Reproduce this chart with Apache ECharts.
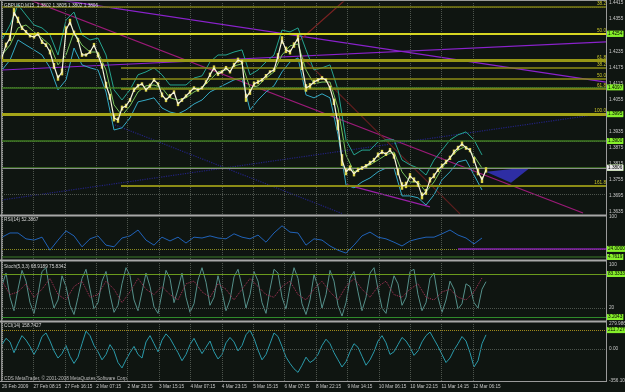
<!DOCTYPE html>
<html><head><meta charset="utf-8">
<script src="https://cdn.jsdelivr.net/npm/echarts@6/dist/echarts.min.js"></script>
<style>html,body{margin:0;padding:0;background:#0f1511;}#c{width:625px;height:392px;}</style>
</head><body><div id="c"></div>
<script>
// ---------- data ----------
const timeLabels = ['26 Feb 2009','27 Feb 08:15','27 Feb 16:15','2 Mar 07:15','2 Mar 23:15','3 Mar 15:15','4 Mar 07:15','4 Mar 23:15','5 Mar 15:15','6 Mar 07:15','8 Mar 22:15','9 Mar 14:15','10 Mar 06:15','10 Mar 22:15','11 Mar 14:15','12 Mar 06:15'];
const priceTicks = [1.4415,1.4355,1.4295,1.4235,1.4175,1.4115,1.4055,1.3995,1.3935,1.3875,1.3815,1.3755,1.3695,1.3635];
// close, one sample per 8 bars
const price = [1.4213,1.4258,1.4284,1.4381,1.4352,1.4322,1.4307,1.4292,1.4288,1.4299,
1.4270,1.4258,1.4232,1.4180,1.4135,1.4158,1.4314,1.4344,1.4303,1.4277,
1.4221,1.4221,1.4232,1.4258,1.4221,1.4180,1.4109,1.4065,1.3986,1.3978,
1.4023,1.4031,1.4053,1.4091,1.4106,1.4113,1.4091,1.4106,1.4128,1.4113,
1.4072,1.4053,1.4068,1.4083,1.4038,1.4053,1.4068,1.4083,1.4098,1.4091,
1.4098,1.4120,1.4147,1.4173,1.4150,1.4158,1.4173,1.4158,1.4184,1.4202,
1.4195,1.4061,1.4083,1.4113,1.4120,1.4128,1.4143,1.4158,1.4165,1.4217,
1.4277,1.4240,1.4232,1.4258,1.4284,1.4180,1.4098,1.4106,1.4120,1.4128,
1.4135,1.4128,1.4098,1.4046,1.3960,1.3829,1.3785,1.3799,1.3777,1.3792,
1.3799,1.3807,1.3818,1.3829,1.3848,1.3859,1.3851,1.3866,1.3844,1.3785,
1.3732,1.3736,1.3770,1.3755,1.3740,1.3695,1.3710,1.3755,1.3770,1.3792,
1.3807,1.3822,1.3837,1.3859,1.3874,1.3889,1.3874,1.3866,1.3829,1.3785,
1.3755,1.3792];
// high-low range of each sample, in pips
const barRange = [14,18,22,30,24,16,14,12,12,14,16,14,18,22,20,26,28,24,18,16,
14,12,14,16,18,20,24,22,26,20,18,16,14,16,14,12,14,16,14,12,
18,16,14,12,16,14,12,14,12,14,12,14,16,18,14,12,14,12,16,18,
16,30,22,18,16,14,14,12,14,22,28,24,18,20,26,30,28,20,16,14,
14,12,16,24,40,44,26,20,18,16,14,14,16,16,18,16,14,16,20,26,
28,24,20,18,22,26,22,20,18,16,16,16,16,18,16,18,14,16,22,26,24,20];
// envelope / average, one sample per 16 bars
const upperBand = [1.4277,1.4333,1.4408,1.4370,1.4333,1.4322,1.4296,1.4221,1.4352,1.4381,
1.4296,1.4277,1.4284,1.4221,1.4091,1.4053,1.4091,1.4147,1.4158,1.4173,
1.4147,1.4109,1.4109,1.4109,1.4135,1.4143,1.4195,1.4221,1.4221,1.4232,
1.4240,1.4147,1.4165,1.4195,1.4221,1.4314,1.4307,1.4322,1.4240,1.4165,
1.4173,1.4184,1.4091,1.3904,1.3848,1.3866,1.3866,1.3897,1.3904,1.3904,
1.3829,1.3811,1.3799,1.3773,1.3829,1.3866,1.3904,1.3923,1.3934,1.3904,1.3848];
const lowerBand = [1.4165,1.4202,1.4277,1.4258,1.4240,1.4221,1.4173,1.4091,1.4128,1.4247,
1.4184,1.4173,1.4165,1.4083,1.3941,1.3949,1.3986,1.4046,1.4053,1.4061,
1.4023,1.4008,1.4001,1.4016,1.4038,1.4053,1.4083,1.4098,1.4113,1.4128,
1.4135,1.4016,1.4053,1.4083,1.4106,1.4158,1.4195,1.4210,1.4072,1.4061,
1.4076,1.4061,1.3923,1.3736,1.3725,1.3747,1.3762,1.3785,1.3799,1.3799,
1.3695,1.3695,1.3688,1.3661,1.3699,1.3755,1.3785,1.3822,1.3829,1.3773,1.3717];
const movingAvg = [1.4221,1.4258,1.4322,1.4333,1.4307,1.4284,1.4258,1.4184,1.4221,1.4307,
1.4258,1.4232,1.4232,1.4165,1.4035,1.3995,1.4031,1.4083,1.4106,1.4109,
1.4098,1.4061,1.4053,1.4061,1.4083,1.4098,1.4128,1.4158,1.4165,1.4180,
1.4188,1.4098,1.4106,1.4135,1.4158,1.4221,1.4255,1.4262,1.4165,1.4113,
1.4120,1.4120,1.4023,1.3848,1.3785,1.3799,1.3811,1.3829,1.3848,1.3859,
1.3785,1.3747,1.3747,1.3710,1.3747,1.3799,1.3837,1.3866,1.3881,1.3844,1.3799];
const rsi = [52,62,62,48,45,52,21,45,67,55,29,48,55,33,29,50,55,69,45,33,
52,43,52,38,52,50,55,50,48,60,52,48,57,40,62,79,64,62,33,48,
45,31,21,14,33,55,64,52,48,40,31,43,48,52,52,60,69,57,50,36,50];
const stochK = [62,85,40,15,55,90,70,30,10,45,88,95,50,20,35,80,60,25,8,40,
75,92,55,18,30,70,88,45,12,25,65,95,80,35,15,50,85,60,22,10,
48,90,75,30,55,85,40,12,28,72,95,68,25,40,80,50,15,35,78,92,
60,20,45,88,70,30,10,55,92,85,40,18,60,95,75,28,8,35,82,60,
20,45,90,70,25,5,30,75,88,50,15,40,85,95,55,20,10,50,80,65,
25,40,88,92,45,15,30,75,85,40,12,35,70,55,18,28,65,60,30,20,55,69];
const stochD = [70,45,50,65,40,55,75,45,35,60,70,40,45,70,55,30,50,75,55,45,
60,45,35,65,70,50,40,65,55,35,55,75,60,45,40,60,70,45,35,55,
70,50,35,60,75,55,40,60,70,45,40,55,65,40,35,50,55,40,35,50,76];
const cci = [50,120,80,-40,60,150,100,30,-60,20,140,180,90,-20,-100,-50,40,-80,-160,-90,
60,200,150,40,-30,-120,-60,50,-20,-150,-210,-120,-40,30,-60,-100,80,150,60,-30,
100,170,120,40,-40,-130,-60,50,120,30,-50,20,90,-30,-110,-60,70,130,80,-20,
40,160,210,120,-10,-120,-60,60,180,140,30,-90,-160,-220,-260,-180,-90,-150,-120,-60,
40,110,60,-40,-120,-200,-140,-30,60,20,-80,-180,-120,-30,90,150,70,-60,-30,50,
130,90,20,-70,-20,80,150,190,110,30,-60,-150,-100,-10,60,140,90,-40,-200,-130,60,159];
const fibALevels = ['38.2','50.0','61.8','100.0'];
const fibAPrices = [1.4389,1.4307,1.4225,1.3952];
const fibBLevels = ['38.2','50.0','61.8','161.8'];
const fibBPrices = [1.4173,1.4132,1.4094,1.3732];
const fibBStart = 29.75;
const hLinePrices = [1.4300,1.4254,1.4097,1.3995,1.3900,1.3796];
const bidPrice = 1.3806;
const trendLines = [
  [[14.5,1.4426],[151,1.4120]],
  [[7,1.4426],[145.25,1.3631]],
  [[0,1.4165],[151,1.4270]],
  [[0,1.3680],[151,1.4004]],
  [[28.25,1.3960],[85.25,1.3628]],
  [[86.25,1.3736],[107,1.3654]],
  [[74.5,1.4277],[85.75,1.4426]],
  [[74.5,1.4221],[114.5,1.3628]]
];
const triangle = [[121,1.3785],[132.25,1.3803],[127.25,1.3744]];
const rsiLevels = [24.0, 4.76];
const rsiLevelLabels = ['24.0000','4.7619'];
const stochLevels = [83.3, 3.2];
const stochLevelLabels = ['83.3333','3.2043'];
const cciLevel = 211.73;
const cciLevelLabel = '211.7279';
const cciTicks = [279.986, 0, -356.1];
const cciTickLabels = ['279.986','0.00','-356.100'];

// ---------- layout / style ----------
const X_MAX = 151;
const tickStep = 7.85;
const timeTicks = timeLabels.map((_, k) => k * tickStep);
const FS = 4.7;
const LBL = '#c8c8c8';
const GRIDC = '#4d544d';
const trendColors = ['#8a22cc','#9c1a78','#8a22cc','#22227e','#22227e','#9a20a8','#7a2222','#5e1e1e'];
const trendTypes = ['solid','solid','solid','dotted','dotted','solid','solid','solid'];

const withStep = (arr, step) => arr.map((v, i) => [i * step, v]);
const nearest = (vals, v) => { let b = 0; vals.forEach((x, i) => { if (Math.abs(x - v) < Math.abs(vals[b] - v)) b = i; }); return b; };
const boxLabel = (text, bg) => ({show:true, position:'end', formatter:text, backgroundColor:bg, color:'#000', fontSize:FS, padding:[1,1,0,1], distance:1, fontFamily:'Liberation Sans'});
const vGrid = timeTicks.map(t => ({xAxis:t}));
function carrier(pane, z, data, lineStyle) {
  return {type:'line', xAxisIndex:pane, yAxisIndex:pane, data:[], z, silent:true,
    markLine:{silent:true, symbol:['none','none'], animation:false, label:{show:false},
      lineStyle: lineStyle || {color:GRIDC, type:'dotted', width:1}, data}};
}

const series = [];
series.push(carrier(0, 1, priceTicks.map(p => ({yAxis:p})).concat(vGrid)));
const fibLbl = t => ({show:true, position:'insideEndTop', formatter:t, color:'#c8c428', fontSize:FS, distance:[0,0.5], fontFamily:'Liberation Sans'});
const fibAStyles = [{color:'#7c7c12',width:1.5},{color:'#d6d622',width:2},{color:'#979716',width:3},{color:'#a4a418',width:3}];
const levelItems = [];
hLinePrices.forEach(p => levelItems.push({yAxis:p, lineStyle:{color:'#3f7a22', width:1.5, type:'solid'}, label:boxLabel(p.toFixed(4), '#86f02a')}));
levelItems.push({yAxis:bidPrice, lineStyle:{color:'#8a8a8a', width:1, type:'solid'}, label:boxLabel(bidPrice.toFixed(4), '#e6e6e6')});
fibAPrices.forEach((p, i) => levelItems.push({yAxis:p, lineStyle:Object.assign({type:'solid'}, fibAStyles[i]), label:fibLbl(fibALevels[i])}));
fibBPrices.forEach((p, i) => levelItems.push([
  {coord:[fibBStart, p], lineStyle:{color:'#8c8c16', width:i===3?2:1.5, type:'solid'}, label:fibLbl(fibBLevels[i])},
  {coord:[X_MAX, p]}]));
series.push(carrier(0, 2, levelItems));
trendLines.forEach((seg, i) => series.push({type:'line', xAxisIndex:0, yAxisIndex:0, data:seg, z:3, silent:true,
  showSymbol:false, symbol:'none', lineStyle:{color:trendColors[i], width:1.2, type:trendTypes[i]}}));
series.push({type:'custom', xAxisIndex:0, yAxisIndex:0, z:3, silent:true, data:[0],
  renderItem:(params, api) => ({type:'polygon', shape:{points:triangle.map(p => api.coord(p))}, style:{fill:'#2e2ea4'}})});
[[upperBand,'#25a38f'],[lowerBand,'#34a9c4'],[movingAvg,'#78c25c']].forEach(([arr, c]) =>
  series.push({type:'line', xAxisIndex:0, yAxisIndex:0, data:withStep(arr, 2), z:4, silent:true, symbol:'none',
    lineStyle:{color:c, width:1}}));
// price bars (high-low) and close line
const barTable = price.map((c, i) => [i, c - barRange[i] * 0.00005, c + barRange[i] * 0.00005]);
series.push({type:'custom', xAxisIndex:0, yAxisIndex:0, z:5, silent:true, data:barTable,
  encode:{x:0, y:[1,2]},
  renderItem:(params, api) => {
    const lo = api.coord([api.value(0), api.value(1)]);
    const hi = api.coord([api.value(0), api.value(2)]);
    return {type:'rect', shape:{x:lo[0] - 1.2, y:hi[1], width:2.4, height:lo[1] - hi[1]}, style:{fill:'#d9d24a'}};
  }});
series.push({type:'line', xAxisIndex:0, yAxisIndex:0, data:withStep(price, 1), z:6, silent:true, symbol:'none',
  lineStyle:{color:'#f6f4dc', width:1.2}});

// RSI pane
series.push(carrier(1, 1, vGrid));
series.push(carrier(1, 2, [
  {yAxis:rsiLevels[0], lineStyle:{color:'#8a8a20', width:1, type:'dotted'}, label:boxLabel(rsiLevelLabels[0], '#86f02a')},
  [{coord:[114, rsiLevels[0]], lineStyle:{color:'#8420b0', width:1.5, type:'solid'}}, {coord:[X_MAX, rsiLevels[0]]}],
  {yAxis:rsiLevels[1], lineStyle:{color:'#2e5a22', width:1.5, type:'solid'}, label:boxLabel(rsiLevelLabels[1], '#86f02a')}
]));
series.push({type:'line', xAxisIndex:1, yAxisIndex:1, data:withStep(rsi, 2), z:4, silent:true, symbol:'none',
  lineStyle:{color:'#2062b8', width:1}});

// Stoch pane
series.push(carrier(2, 1, vGrid.concat([{yAxis:20}])));
series.push(carrier(2, 2, stochLevels.map((v, i) => ({yAxis:v, lineStyle:{color:i===0?'#6a9a1c':'#2f8a2a', width:1.2, type:'solid'}, label:boxLabel(stochLevelLabels[i], '#86f02a')}))));
series.push({type:'line', xAxisIndex:2, yAxisIndex:2, data:withStep(stochK, 1), z:4, silent:true, symbol:'none',
  lineStyle:{color:'#55908a', width:1}});
series.push({type:'line', xAxisIndex:2, yAxisIndex:2, data:withStep(stochD, 2), z:4, silent:true, symbol:'none',
  lineStyle:{color:'#a83458', width:1, type:'dotted'}});

// CCI pane
series.push(carrier(3, 1, vGrid.concat([{yAxis:0}])));
series.push(carrier(3, 2, [{yAxis:cciLevel, lineStyle:{color:'#a08a1a', width:1, type:'dotted'}, label:boxLabel(cciLevelLabel, '#86f02a')}]));
series.push({type:'line', xAxisIndex:3, yAxisIndex:3, data:withStep(cci, 1), z:4, silent:true, symbol:'none',
  lineStyle:{color:'#2a9aaa', width:1}});

const yAx = (i, min, max, vals, fmt) => ({type:'value', gridIndex:i, position:'right', min, max, scale:true,
  axisLine:{show:true, lineStyle:{color:'#9a9a9a', width:1}}, axisTick:{show:false}, splitLine:{show:false},
  axisLabel:{show:true, customValues:vals, formatter:fmt, fontSize:FS, color:LBL, margin:3, fontFamily:'Liberation Sans'}});

const titleStyle = {fontSize:FS, color:'#d6d6d6', fontWeight:'normal', fontFamily:'Liberation Sans'};
const option = {
  backgroundColor:'#0f1511',
  animation:false,
  title:[
    {text:'GBPUSD,M15  1.3802 1.3805 1.3802 1.3806', left:4, top:3.5, padding:0, textStyle:titleStyle},
    {text:'RSI(14) 52.3867', left:4, top:217, padding:0, textStyle:titleStyle},
    {text:'Stoch(5,3,3) 68.9189 75.8342', left:4, top:264, padding:0, textStyle:titleStyle},
    {text:'CCI(14) 158.7427', left:4, top:323.5, padding:0, textStyle:titleStyle},
    {text:'CDS MetaTrader, © 2001-2008 MetaQuotes Software Corp.', left:4, top:376, padding:0, textStyle:Object.assign({}, titleStyle, {color:'#bdbdbd'})}
  ],
  graphic:[
    {type:'rect', shape:{x:0, y:0, width:607, height:1}, style:{fill:'#9a9a9a'}, z:100},
    {type:'rect', shape:{x:1, y:0, width:1, height:382}, style:{fill:'#8a8a8a'}, z:100},
    {type:'rect', shape:{x:0, y:214.5, width:607, height:2}, style:{fill:'#a8a8a8'}, z:100},
    {type:'rect', shape:{x:0, y:259.5, width:607, height:2}, style:{fill:'#a8a8a8'}, z:100},
    {type:'rect', shape:{x:0, y:320.5, width:607, height:2}, style:{fill:'#a8a8a8'}, z:100},
    {type:'rect', shape:{x:0, y:381, width:607, height:1}, style:{fill:'#9a9a9a'}, z:100},
    {type:'rect', shape:{x:606, y:0, width:1, height:382}, style:{fill:'#9a9a9a'}, z:100}
  ],
  grid:[
    {left:2, top:2, width:604, height:212, containLabel:false, outerBoundsMode:'none'},
    {left:2, top:217, width:604, height:42, containLabel:false, outerBoundsMode:'none'},
    {left:2, top:262, width:604, height:58, containLabel:false, outerBoundsMode:'none'},
    {left:2, top:323, width:604, height:58, containLabel:false, outerBoundsMode:'none'}
  ],
  xAxis:[0,1,2,3].map(i => ({type:'value', gridIndex:i, min:0, max:X_MAX,
    axisLine:{show:false}, axisTick:{show:false}, splitLine:{show:false},
    axisLabel: i === 3 ? {show:true, customValues:timeTicks, formatter:v => timeLabels[Math.round(v / tickStep)] || '',
      align:'left', fontSize:FS, color:LBL, margin:3, fontFamily:'Liberation Sans'} : {show:false}})),
  yAxis:[
    yAx(0, 1.36275, 1.44187, priceTicks, v => v.toFixed(4)),
    yAx(1, 0, 100, [100], v => '100'),
    yAx(2, -2.3, 105.6, [100, 20], v => String(Math.round(v))),
    yAx(3, -356.1, 291.15, cciTicks, v => cciTickLabels[nearest(cciTicks, v)])
  ],
  series
};
const chart = echarts.init(document.getElementById('c'), null, {renderer:'canvas'});
chart.setOption(option);
</script></body></html>
